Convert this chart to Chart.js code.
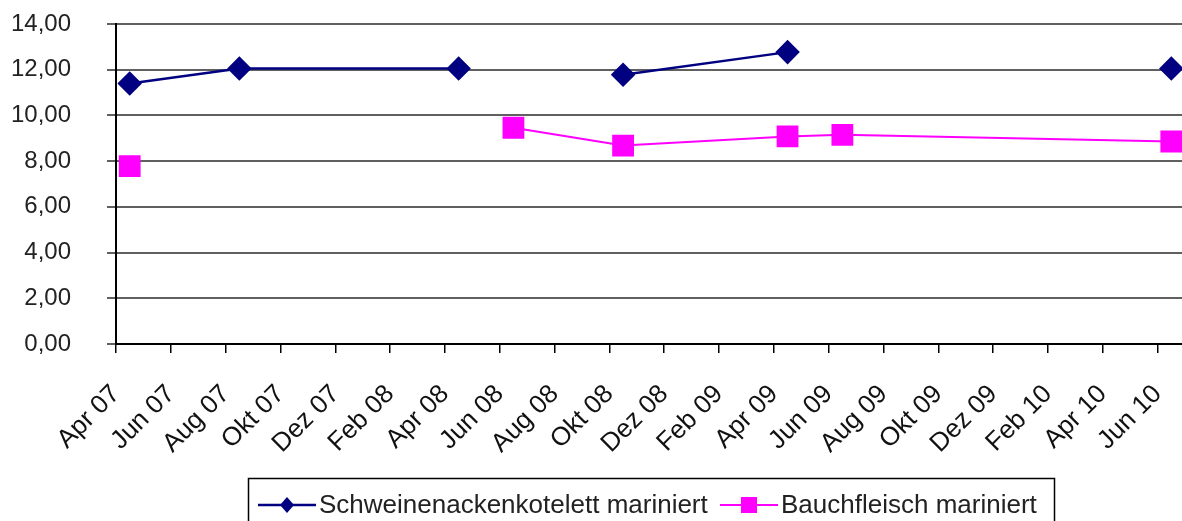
<!DOCTYPE html>
<html>
<head>
<meta charset="utf-8">
<script src="https://cdn.jsdelivr.net/npm/chart.js@4"></script>
<style>
  body { margin: 0; background: #fff; overflow: hidden; }
</style>
</head>
<body>
<canvas id="preise" width="1201" height="521"></canvas>
<script>
// months counted from Apr 07, one entry per price survey
const sampleMonths = [0, 4, 12, 14, 18, 24, 26, 38];
const schwein = [11.40, 12.05, 12.05, null, 11.78, 12.77, null, 12.05];
const bauch = [7.78, null, null, 9.46, 8.68, 9.08, 9.15, 8.86];
const tickLabels = ['Apr 07', 'Jun 07', 'Aug 07', 'Okt 07', 'Dez 07', 'Feb 08', 'Apr 08',
    'Jun 08', 'Aug 08', 'Okt 08', 'Dez 08', 'Feb 09', 'Apr 09', 'Jun 09', 'Aug 09',
    'Okt 09', 'Dez 09', 'Feb 10', 'Apr 10', 'Jun 10'];

// points sit in the middle of their month
const toPoints = vals => vals.map((v, i) => ({x: sampleMonths[i] + 0.5, y: v}));

const legendBox = {
    id: 'legendBox',
    afterDraw(chart) {
        const c = chart.ctx;
        const ds = chart.data.datasets;
        c.save();
        c.strokeStyle = '#000';
        c.lineWidth = 1.5;
        c.strokeRect(248.5, 478.5, 806, 60);
        c.font = '26px "Liberation Sans", Arial, sans-serif';
        c.textBaseline = 'middle';
        const y = 505;
        const items = [{x: 258, ds: ds[0]}, {x: 720, ds: ds[1]}];
        items.forEach(it => {
            c.strokeStyle = it.ds.borderColor;
            c.lineWidth = it.ds.borderWidth;
            c.beginPath();
            c.moveTo(it.x, y);
            c.lineTo(it.x + 58, y);
            c.stroke();
            c.fillStyle = it.ds.pointBackgroundColor;
            const cx = it.x + 29;
            if (it.ds.pointStyle === 'rectRot') {
                c.beginPath();
                c.moveTo(cx, y - 8); c.lineTo(cx + 7, y); c.lineTo(cx, y + 8); c.lineTo(cx - 7, y);
                c.closePath();
                c.fill();
            } else {
                c.fillRect(cx - 8, y - 8, 16, 16);
            }
            c.fillStyle = '#222';
            c.fillText(it.ds.label, it.x + 61, y + 1);
        });
        c.restore();
    }
};

new Chart(document.getElementById('preise'), {
    type: 'line',
    data: {
        datasets: [{
                label: 'Schweinenackenkotelett mariniert',
                data: toPoints(schwein),
                borderColor: '#000080',
                pointBackgroundColor: '#000080',
                pointBorderColor: '#000080',
                borderWidth: 2.5,
                pointStyle: 'rectRot',
                pointRadius: 10.5,
                spanGaps: false
            }, {
                label: 'Bauchfleisch mariniert',
                data: toPoints(bauch),
                borderColor: '#ff00ff',
                pointBackgroundColor: '#ff00ff',
                pointBorderColor: '#ff00ff',
                borderWidth: 2,
                pointStyle: 'rect',
                pointRadius: 14,
                spanGaps: false
            }]
    },
    plugins: [legendBox],
    options: {
        responsive: false,
        animation: false,
        layout: {padding: {top: 24, right: 4.5, left: 0, bottom: 0}},
        plugins: {legend: {display: false}, tooltip: {enabled: false}},
        scales: {
            x: {
                type: 'linear',
                min: 0,
                max: 39,
                afterFit: s => {
                    s.height = 177;
                    s.paddingLeft = 0;
                    s.paddingRight = 0;
                },
                border: {color: '#000', width: 2},
                grid: {drawOnChartArea: false, tickLength: 9, color: '#000', lineWidth: 1.5},
                ticks: {
                    stepSize: 2,
                    includeBounds: false,
                    autoSkip: false,
                    minRotation: 45,
                    maxRotation: 45,
                    padding: 26,
                    color: '#111',
                    font: {family: '"Liberation Sans", Arial, sans-serif', size: 26},
                    callback: v => tickLabels[v / 2]
                }
            },
            y: {
                min: 0,
                max: 14,
                afterFit: s => {
                    s.width = 116;
                    s.paddingTop = 0;
                    s.paddingBottom = 0;
                },
                border: {color: '#000', width: 2},
                grid: {color: '#606060', lineWidth: 2, tickLength: 9},
                ticks: {
                    stepSize: 2,
                    padding: 36,
                    color: '#222',
                    font: {family: '"Liberation Sans", Arial, sans-serif', size: 24},
                    callback: v => v.toFixed(2).replace('.', ',')
                }
            }
        }
    }
});
</script>
</body>
</html>
